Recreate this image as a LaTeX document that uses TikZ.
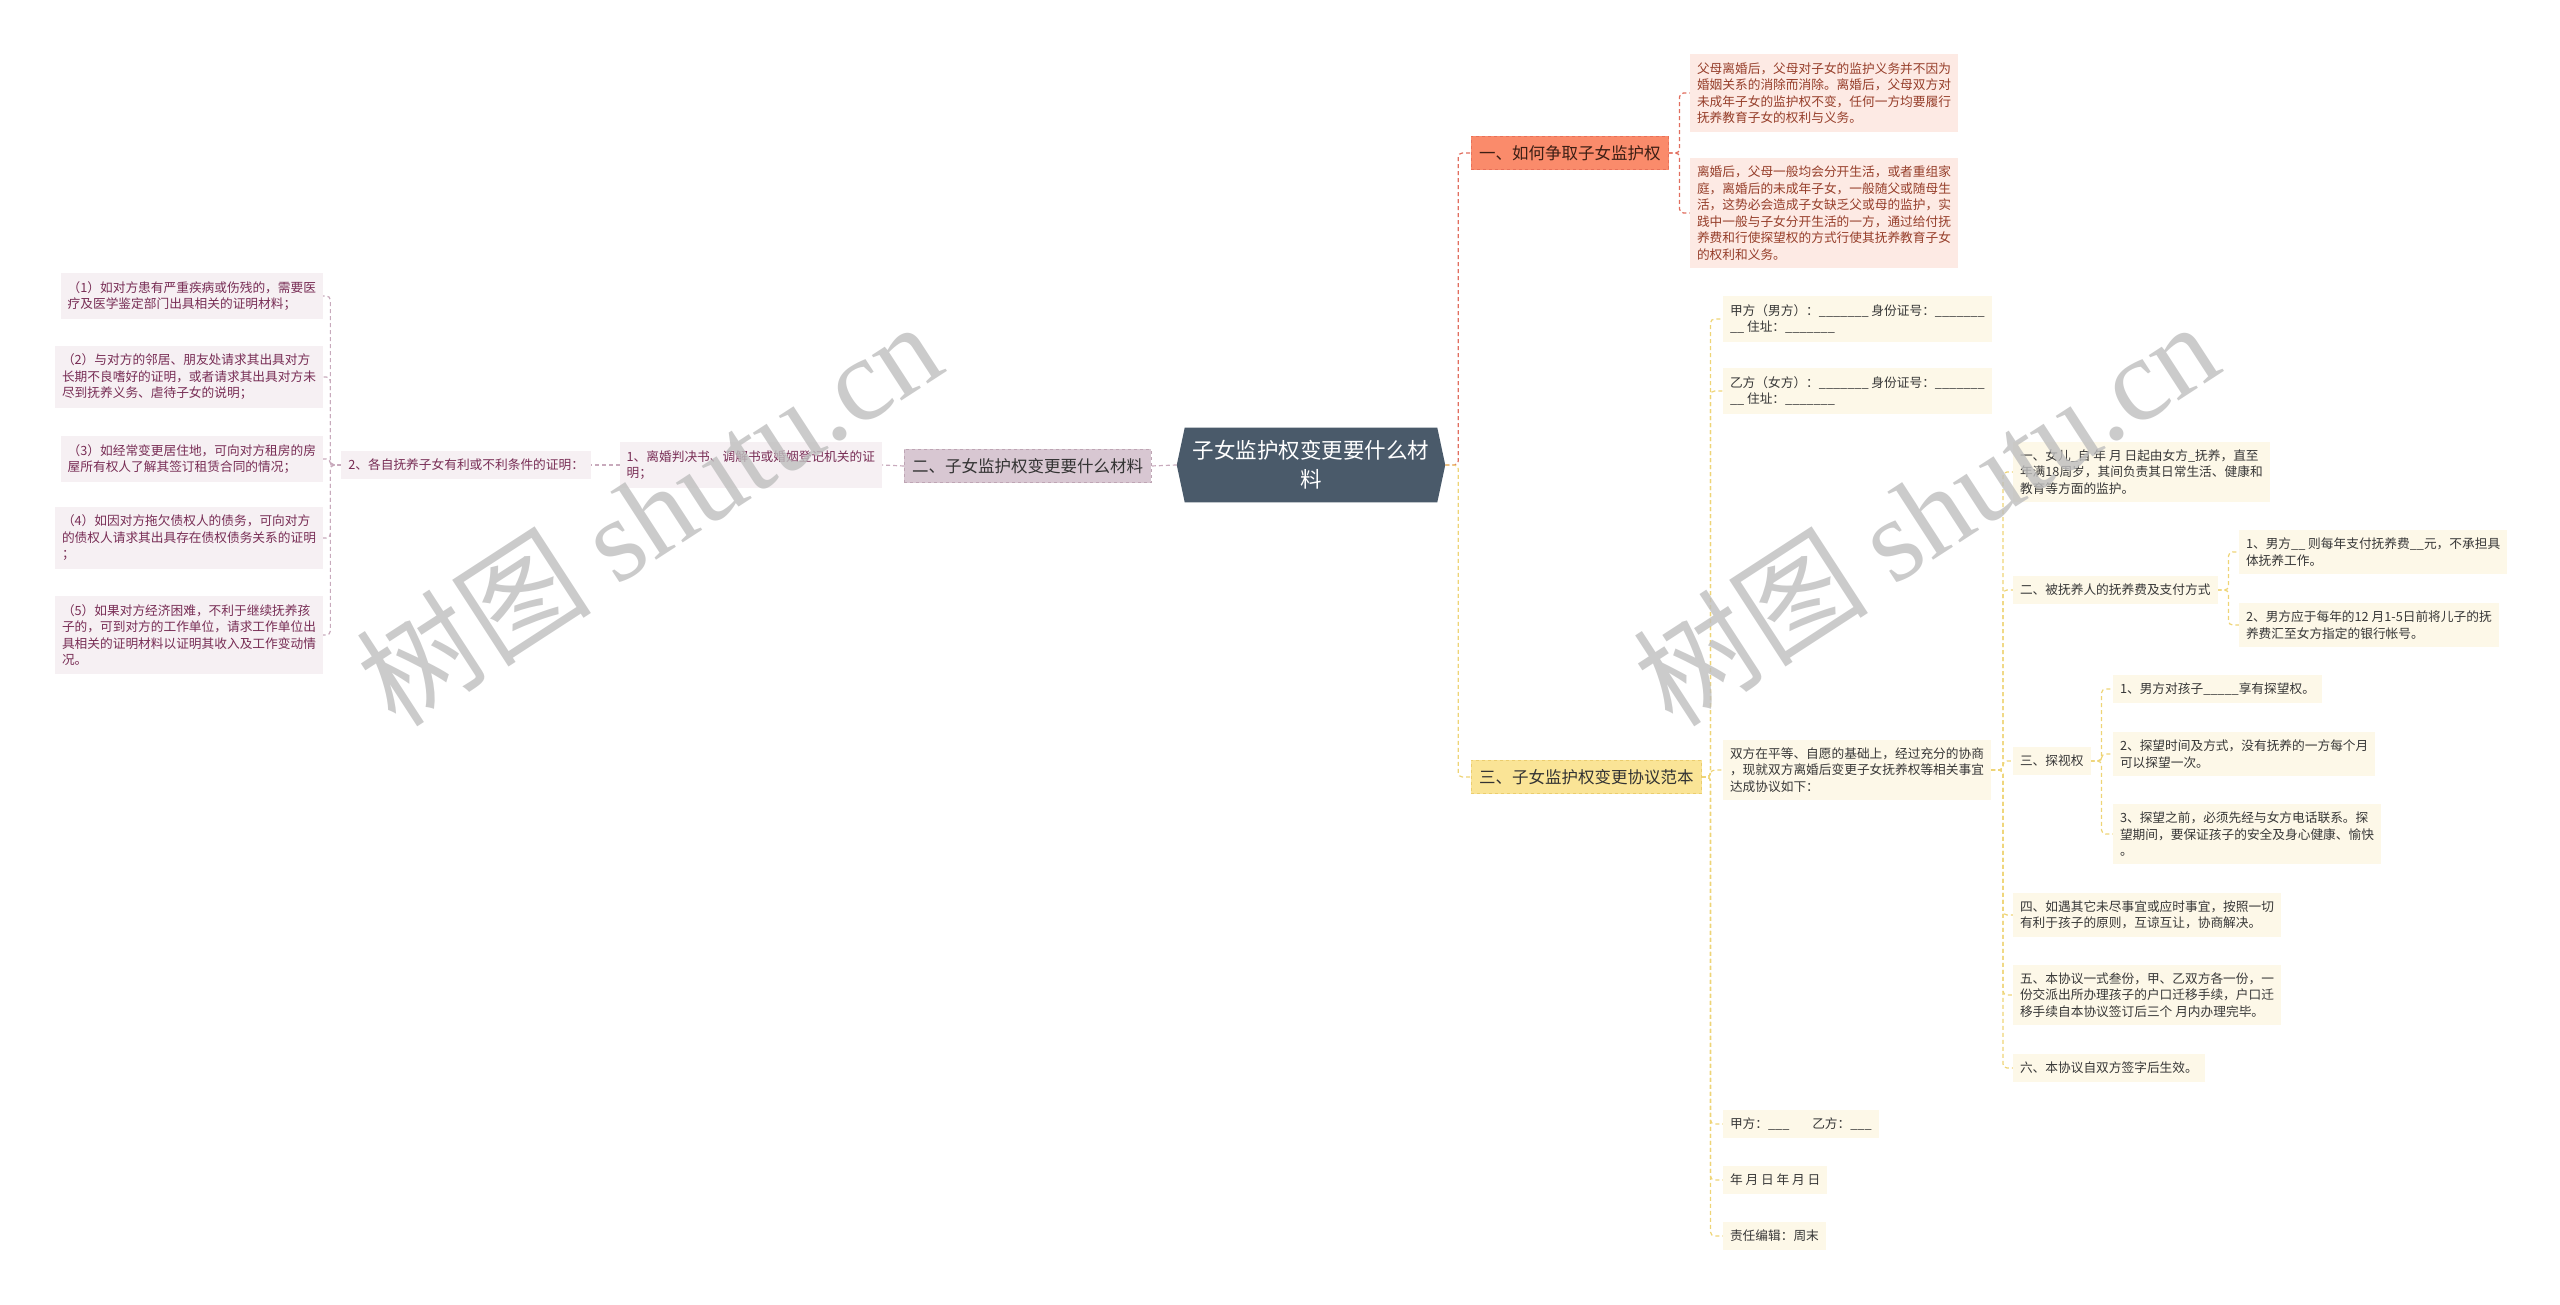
\documentclass[tikz,border=0pt]{standalone}
\usepackage{fontspec}
\setmainfont{Noto Sans CJK SC}
\newfontfamily\wmlatin{Liberation Serif}
\usetikzlibrary{backgrounds}
\definecolor{cfill}{RGB}{74,90,106}
\definecolor{bAfill}{RGB}{250,139,107}
\definecolor{bAdraw}{RGB}{232,112,88}
\definecolor{bAtext}{RGB}{60,30,20}
\definecolor{cAfill}{RGB}{253,234,228}
\definecolor{cAtext}{RGB}{150,62,42}
\definecolor{lineA}{RGB}{225,110,95}
\definecolor{bBfill}{RGB}{216,199,210}
\definecolor{bBdraw}{RGB}{190,165,180}
\definecolor{cBfill}{RGB}{246,240,243}
\definecolor{cBtext}{RGB}{120,45,85}
\definecolor{lineB}{RGB}{200,170,188}
\definecolor{bCfill}{RGB}{250,228,150}
\definecolor{bCdraw}{RGB}{235,205,110}
\definecolor{cCfill}{RGB}{253,248,232}
\definecolor{cCtext}{RGB}{55,55,55}
\definecolor{lineC}{RGB}{238,212,118}
\definecolor{wmgray}{RGB}{190,190,190}
\begin{document}
\begin{tikzpicture}[x=1pt,y=-1pt,
  every node/.style={inner sep=0pt,outer sep=0pt},
  smallbox/.style={align=left,inner xsep=7pt,inner ysep=8pt,font=\fontsize{12.7}{16.5}\selectfont},
  boxA/.style={smallbox,fill=cAfill,text=cAtext},
  boxB/.style={smallbox,fill=cBfill,text=cBtext},
  boxC/.style={smallbox,fill=cCfill,text=cCtext},
  branch/.style={inner xsep=8pt,inner ysep=9pt,font=\fontsize{16.5}{20}\selectfont,dashed,line width=0.8pt},
  conn/.style={dash pattern=on 4pt off 3pt,line width=1.2pt,rounded corners=4pt},
  wm/.style={text=wmgray,text opacity=0.8,font=\fontsize{118}{128}\selectfont}
]
\useasboundingbox (0,0) rectangle (2560,1305);

% center
\node[align=center,text=white,inner xsep=16pt,inner ysep=13pt,font=\fontsize{21.5}{29}\selectfont] (c) at (1311,465) {子女监护权变更要什么材\\料};
\begin{scope}[on background layer]
\fill[cfill] ([xshift=8pt]c.north west) -- ([xshift=-8pt]c.north east) -- (c.east) -- ([xshift=-8pt]c.south east) -- ([xshift=8pt]c.south west) -- (c.west) -- cycle;
\end{scope}

% branches
\node[branch,fill=bAfill,draw=bAdraw,text=bAtext,anchor=west] (b1) at (1471,153) {一、如何争取子女监护权};
\node[branch,fill=bBfill,draw=bBdraw,text=black!80,anchor=east] (b2) at (1151,466) {二、子女监护权变更要什么材料};
\node[branch,fill=bCfill,draw=bCdraw,text=black!80,anchor=west] (b3) at (1471,777) {三、子女监护权变更协议范本};

% branch 1 children
\node[boxA,anchor=west] (a1) at (1690,93) {父母离婚后，父母对子女的监护义务并不因为\\婚姻关系的消除而消除。离婚后，父母双方对\\未成年子女的监护权不变，任何一方均要履行\\抚养教育子女的权利与义务。};
\node[boxA,anchor=west] (a2) at (1690,213) {离婚后，父母一般均会分开生活，或者重组家\\庭，离婚后的未成年子女，一般随父或随母生\\活，这势必会造成子女缺乏父或母的监护，实\\践中一般与子女分开生活的一方，通过给付抚\\养费和行使探望权的方式行使其抚养教育子女\\的权利和义务。};

% branch 2 children
\node[boxB,anchor=east] (m1) at (882,465) {1、离婚判决书、调解书或婚姻登记机关的证\\明；};
\node[boxB,anchor=east] (m2) at (591,465) {2、各自抚养子女有利或不利条件的证明：};
\node[boxB,anchor=east] (l1) at (323,296) {（1）如对方患有严重疾病或伤残的，需要医\\疗及医学鉴定部门出具相关的证明材料；};
\node[boxB,anchor=east] (l2) at (323,377) {（2）与对方的邻居、朋友处请求其出具对方\\长期不良嗜好的证明，或者请求其出具对方未\\尽到抚养义务、虐待子女的说明；};
\node[boxB,anchor=east] (l3) at (323,459) {（3）如经常变更居住地，可向对方租房的房\\屋所有权人了解其签订租赁合同的情况；};
\node[boxB,anchor=east] (l4) at (323,538) {（4）如因对方拖欠债权人的债务，可向对方\\的债权人请求其出具存在债权债务关系的证明\\；};
\node[boxB,anchor=east] (l5) at (323,635) {（5）如果对方经济困难，不利于继续抚养孩\\子的，可到对方的工作单位，请求工作单位出\\具相关的证明材料以证明其收入及工作变动情\\况。};

% branch 3 children
\node[boxC,anchor=west] (p1) at (1723,319) {甲方（男方）：\_\_\_\_\_\_\_ 身份证号：\_\_\_\_\_\_\_\\\_\_ 住址：\_\_\_\_\_\_\_};
\node[boxC,anchor=west] (p2) at (1723,391) {乙方（女方）：\_\_\_\_\_\_\_ 身份证号：\_\_\_\_\_\_\_\\\_\_ 住址：\_\_\_\_\_\_\_};
\node[boxC,anchor=west] (p3) at (1723,770) {双方在平等、自愿的基础上，经过充分的协商\\，现就双方离婚后变更子女抚养权等相关事宜\\达成协议如下：};
\node[boxC,anchor=west] (p4) at (1723,1124) {甲方：\_\_\_\hspace{1.8em}乙方：\_\_\_};
\node[boxC,anchor=west] (p5) at (1723,1180) {年 月 日 年 月 日};
\node[boxC,anchor=west] (p6) at (1723,1236) {责任编辑：周末};

\node[boxC,anchor=west] (q1) at (2013,472) {一、女儿\_自 年 月 日起由女方\_抚养，直至\\年满18周岁，其间负责其日常生活、健康和\\教育等方面的监护。};
\node[boxC,anchor=west] (q2) at (2013,590) {二、被抚养人的抚养费及支付方式};
\node[boxC,anchor=west] (q3) at (2013,761) {三、探视权};
\node[boxC,anchor=west] (q4) at (2013,915) {四、如遇其它未尽事宜或应时事宜，按照一切\\有利于孩子的原则，互谅互让，协商解决。};
\node[boxC,anchor=west] (q5) at (2013,995) {五、本协议一式叁份，甲、乙双方各一份，一\\份交派出所办理孩子的户口迁移手续，户口迁\\移手续自本协议签订后三个 月内办理完毕。};
\node[boxC,anchor=west] (q6) at (2013,1068) {六、本协议自双方签字后生效。};

\node[boxC,anchor=west] (r1) at (2239,552) {1、男方\_\_ 则每年支付抚养费\_\_元，不承担具\\体抚养工作。};
\node[boxC,anchor=west] (r2) at (2239,625) {2、男方应于每年的12 月1-5日前将儿子的抚\\养费汇至女方指定的银行帐号。};

\node[boxC,anchor=west] (s1) at (2113,689) {1、男方对孩子\_\_\_\_\_享有探望权。};
\node[boxC,anchor=west] (s2) at (2113,754) {2、探望时间及方式，没有抚养的一方每个月\\可以探望一次。};
\node[boxC,anchor=west] (s3) at (2113,834) {3、探望之前，必须先经与女方电话联系。探\\望期间，要保证孩子的安全及身心健康、愉快\\。};

% connectors
\begin{scope}[on background layer]
\draw[conn,lineA] (c.east) -- ++(13,0) |- (b1.west);
\draw[conn,lineC] (c.east) -- ++(13,0) |- (b3.west);
\draw[conn,lineB] (c.west) -- (b2.east);
\foreach \t in {a1,a2} \draw[conn,lineA] (b1.east) -- ++(11,0) |- (\t.west);
\draw[conn,lineB] (b2.west) -- (m1.east);
\draw[conn,lineB] (m1.west) -- (m2.east);
\foreach \t in {l1,l2,l3,l4,l5} \draw[conn,lineB] (m2.west) -- ++(-11,0) |- (\t.east);
\foreach \t in {p1,p2,p3,p4,p5,p6} \draw[conn,lineC] (b3.east) -- ++(9,0) |- (\t.west);
\foreach \t in {q1,q2,q3,q4,q5,q6} \draw[conn,lineC] (p3.east) -- ++(12,0) |- (\t.west);
\foreach \t in {r1,r2} \draw[conn,lineC] (q2.east) -- ++(11,0) |- (\t.west);
\foreach \t in {s1,s2,s3} \draw[conn,lineC] (q3.east) -- ++(11,0) |- (\t.west);
\end{scope}

% watermarks
\node[wm,rotate=33] (w1) at (648,512) {树图 {\wmlatin shutu.cn}};
\node[wm,rotate=33] (w2) at (1925,512) {树图 {\wmlatin shutu.cn}};
\end{tikzpicture}
\end{document}
